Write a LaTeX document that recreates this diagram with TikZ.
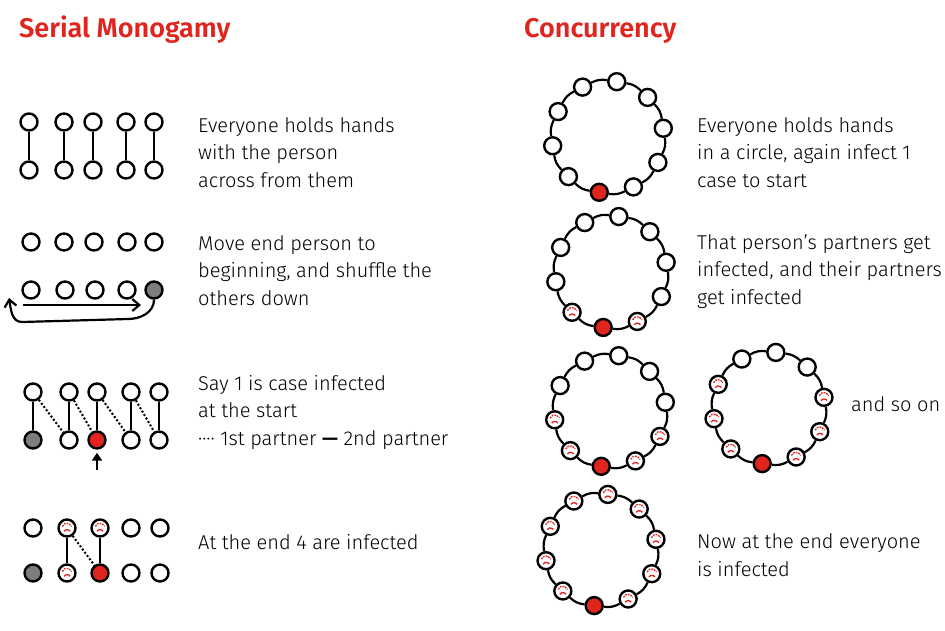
\documentclass[tikz,border=0pt]{standalone}
\usepackage{fontspec}
\setmainfont{Fira Sans}[UprightFont=* Light, BoldFont=* SemiBold]
\usetikzlibrary{arrows.meta}

\definecolor{infred}{RGB}{224,36,30}
\definecolor{endgrey}{RGB}{125,125,125}

\begin{document}
\begin{tikzpicture}[x=1pt, y=1pt,
  person/.style={draw, circle, line width=2.4pt, minimum size=17pt, inner sep=0pt, fill=white},
  gone/.style={person, fill=endgrey},
  sick/.style={person, fill=infred},
  caught/.style={person, path picture={
    \draw[infred, line width=1.3pt, dash pattern=on 1.8pt off 1pt]
      ([shift={(-4.7,1.6)}]path picture bounding box.center) arc[start angle=160, end angle=20, radius=5];
    \draw[infred, line width=1.3pt]
      ([shift={(-3,-3.3)}]path picture bounding box.center) arc[start angle=150, end angle=30, radius=3.5];}},
  hands/.style={line width=2.2pt},
  first/.style={line width=2pt, dash pattern=on 2pt off 2pt},
  shift arrow/.style={line width=2.2pt, -{Straight Barb[length=7pt, width=12pt]}},
  pointer/.style={line width=2.4pt, -{Triangle[length=8pt, width=10pt]}, shorten >=3pt},
  title/.style={anchor=base west, inner sep=0pt, text=infred, font=\fontsize{27}{30}\selectfont\bfseries},
  caption/.style={anchor=base west, align=left, inner sep=0pt, font=\fontsize{20}{27.5}\selectfont}]
\useasboundingbox (0,0) rectangle (945,-630);

% headings
\node[title] (serial) at (19,-37) {Serial Monogamy};
\node[title] (conc) at (524,-37) {Concurrency};

% serial: pairs across
\node[person] (h1) at (29,-122) {};
\node[person] (h2) at (64,-122) {};
\node[person] (h3) at (93,-122) {};
\node[person] (h4) at (126,-122) {};
\node[person] (h5) at (154,-122) {};
\node[person] (f1) at (29,-170) {};
\node[person] (f2) at (64,-170) {};
\node[person] (f3) at (93,-170) {};
\node[person] (f4) at (126,-170) {};
\node[person] (f5) at (154,-170) {};
\path[hands]
(h1) edge (f1)
(h2) edge (f2)
(h3) edge (f3)
(h4) edge (f4)
(h5) edge (f5);
\node[caption] (t1) at (198,-187) {Everyone holds hands\\with the person\\across from them};

% serial: shuffle
\node[person] (m1) at (31,-242) {};
\node[person] (m2) at (64,-242) {};
\node[person] (m3) at (94,-242) {};
\node[person] (m4) at (127,-242) {};
\node[person] (m5) at (154,-242) {};
\node[person] (s1) at (31,-290) {};
\node[person] (s2) at (65,-290) {};
\node[person] (s3) at (95,-290) {};
\node[person] (s4) at (127,-290) {};
\node[gone]   (s5) at (154,-290) {};
\coordinate (go) at (23,-305);
\coordinate (stop) at (141,-305);
\coordinate (low) at (128,-319);
\coordinate (back) at (22,-322);
\coordinate (up) at (9,-298);
\draw[shift arrow] (go) -- (stop);
\draw[shift arrow] (s5.south) to[out=-90, in=0] (low) -- (back) to[out=180, in=-80] (up);
\node[caption] (t2) at (198,-305) {Move end person to\\beginning, and shuffle the\\others down};

% serial: first and second partners
\node[person] (a1) at (33,-392) {};
\node[person] (a2) at (69,-392) {};
\node[person] (a3) at (97,-392) {};
\node[person] (a4) at (131,-392) {};
\node[person] (a5) at (159,-392) {};
\node[gone]   (b1) at (33,-440) {};
\node[person] (b2) at (69,-440) {};
\node[sick]   (b3) at (97,-440) {};
\node[person] (b4) at (131,-440) {};
\node[person] (b5) at (159,-440) {};
\path[hands]
(a1) edge (b1)
(a2) edge (b2)
(a3) edge (b3)
(a4) edge (b4)
(a5) edge (b5);
\path[first]
(a1) edge (b2)
(a2) edge (b3)
(a3) edge (b4)
(a4) edge (b5);
\coordinate (tail) at (97,-470);
\draw[pointer] (tail) -- (b3);
\node[caption] (t3) at (198,-445) {Say 1 is case infected\\at the start\\···· 1st partner \textbf{—} 2nd partner};

% serial: end state
\node[person] (e1) at (33,-528) {};
\node[caught] (e2) at (67,-528) {};
\node[caught] (e3) at (100,-528) {};
\node[person] (e4) at (131,-528) {};
\node[person] (e5) at (160,-528) {};
\node[gone]   (g1) at (33,-573) {};
\node[caught] (g2) at (67,-573) {};
\node[sick]   (g3) at (100,-573) {};
\node[person] (g4) at (131,-573) {};
\node[person] (g5) at (160,-573) {};
\path[hands]
(e2) edge (g2)
(e3) edge (g3);
\path[first]
(e2) edge (g3);
\node[caption] (t4) at (198,-549) {At the end 4 are infected};

% concurrency rings
\foreach \j/\s in {0/sick,1/person,2/person,3/person,4/person,5/person,6/person,7/person,8/person,9/person}
  \node[\s] (p\j) at ([shift={(261+36*\j:56)}]608,-137) {};
\foreach \j/\s in {0/sick,1/caught,2/person,3/person,4/person,5/person,6/person,7/person,8/person,9/caught}
  \node[\s] (q\j) at ([shift={(262+36*\j:56)}]611,-272) {};
\foreach \j/\s in {0/sick,1/caught,2/caught,3/person,4/person,5/person,6/person,7/person,8/caught,9/caught}
  \node[\s] (v\j) at ([shift={(261+36*\j:56)}]610,-411) {};
\foreach \j/\s in {0/sick,1/caught,2/caught,3/caught,4/person,5/person,6/person,7/caught,8/caught,9/caught}
  \node[\s] (u\j) at ([shift={(263+36*\j:56)}]769,-408) {};
\foreach \j/\s in {0/sick,1/caught,2/caught,3/caught,4/caught,5/caught,6/caught,7/caught,8/caught,9/caught}
  \node[\s] (w\j) at ([shift={(263+36*\j:56)}]601,-550) {};
\foreach \ring in {p,q,v,u,w}
  \foreach \j in {0,...,9}{
    \pgfmathtruncatemacro{\nxt}{mod(\j+1,10)}
    \draw[hands] (\ring\j) to[bend right=18] (\ring\nxt);
  }

\node[caption] (c1) at (697,-187) {Everyone holds hands\\in a circle, again infect 1\\case to start};
\node[caption] (c2) at (697,-304) {That person’s partners get\\infected, and their partners\\get infected};
\node[caption] (c3) at (851,-411) {and so on};
\node[caption] (c4) at (697,-576) {Now at the end everyone\\is infected};
\end{tikzpicture}
\end{document}
